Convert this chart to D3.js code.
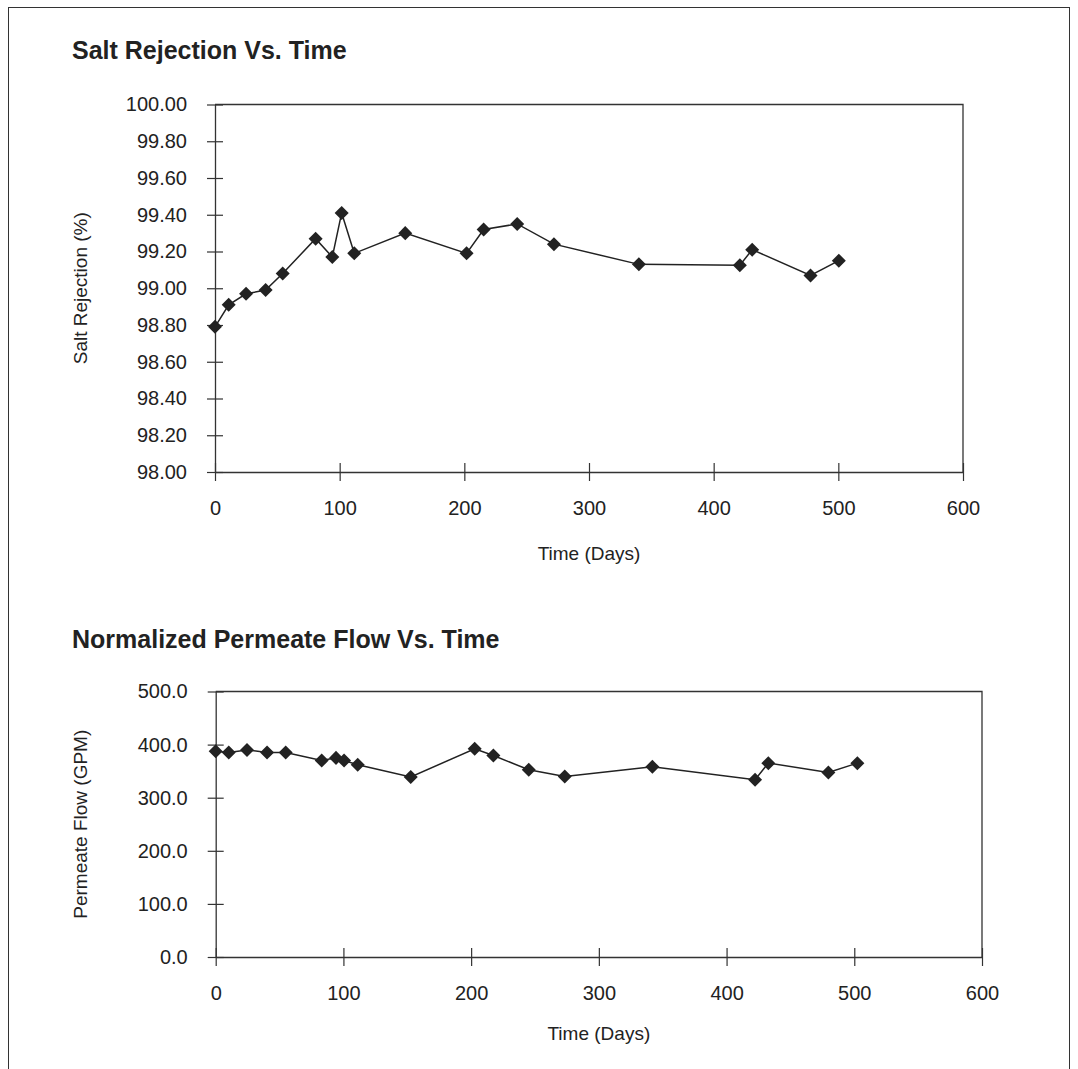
<!DOCTYPE html>
<html>
<head>
<meta charset="utf-8">
<script src="https://cdn.jsdelivr.net/npm/d3@7"></script>
<style>
  html, body { margin: 0; padding: 0; background: #fff; }
  svg { display: block; font-family: "Liberation Sans", Arial, Helvetica, sans-serif; }
</style>
</head>
<body>
<svg id="chart" width="1078" height="1069"></svg>
<script>
// ---- Data ----
const rejectionDays = [0, 11, 24.9, 40.6, 54.3, 80.7, 94.1, 101.6, 111.7, 152.6, 201.8, 215.5, 242.4, 271.9, 340, 421, 430.9, 477.7, 500.4];
const rejectionValues = [98.79, 98.91, 98.97, 98.99, 99.08, 99.27, 99.17, 99.41, 99.19, 99.30, 99.19, 99.32, 99.35, 99.24, 99.13, 99.125, 99.21, 99.07, 99.15];

const flowDays = [0, 10.2, 24.5, 40.2, 54.8, 83, 94.2, 100.5, 111.2, 152.7, 202.8, 217.4, 245.1, 273.3, 341.9, 422.3, 432.7, 479.7, 502.4];
const flowValues = [387.7, 385, 390, 385, 385, 370, 375, 370, 362, 339.2, 392, 379.5, 352.6, 340, 358.2, 333.8, 365.1, 347.4, 365.1];

const xTicks = [0, 100, 200, 300, 400, 500, 600];
const rejectionTicks = [98.0, 98.2, 98.4, 98.6, 98.8, 99.0, 99.2, 99.4, 99.6, 99.8, 100.0];
const flowTicks = [0, 100, 200, 300, 400, 500];

const svg = d3.select("#chart");
const ink = "#222";

// outer frame (bottom edge runs off the page)
svg.append("rect").attr("x", 8.5).attr("y", 7.5).attr("width", 1061).attr("height", 1080)
  .attr("fill", "none").attr("stroke", "#333").attr("stroke-width", 1);

function drawChart(cfg) {
  const x = d3.scaleLinear().domain([0, 600]).range([cfg.left, cfg.right]);
  const y = d3.scaleLinear().domain(cfg.yDomain).range([cfg.bottom, cfg.top]);
  const g = svg.append("g");

  // title
  g.append("text").attr("x", 72).attr("y", cfg.titleY)
    .attr("font-size", 25).attr("font-weight", "bold").attr("fill", ink)
    .text(cfg.title);

  // plot border (top & right)
  g.append("path")
    .attr("d", `M${cfg.left},${y.range()[1]}H${cfg.right}V${cfg.bottom}`)
    .attr("fill", "none").attr("stroke", "#333").attr("stroke-width", 1.3);

  // x axis
  const xa = g.append("g").attr("transform", `translate(0,${cfg.bottom})`)
    .call(d3.axisBottom(x).tickValues(xTicks).tickFormat(d3.format("d")).tickSizeOuter(0))
    .attr("font-family", null);
  xa.select(".domain").attr("stroke", "#333").attr("stroke-width", 1.3);
  xa.selectAll(".tick line").attr("y1", -9).attr("y2", 9).attr("stroke", "#333").attr("stroke-width", 1.2);
  xa.selectAll(".tick text").attr("y", 29).attr("font-size", 20).attr("fill", ink);

  // y axis
  const ya = g.append("g").attr("transform", `translate(${cfg.left},0)`)
    .call(d3.axisLeft(y).tickValues(cfg.yTicks).tickFormat(d3.format(cfg.yFormat)).tickSizeOuter(0))
    .attr("font-family", null);
  ya.select(".domain").attr("stroke", "#333").attr("stroke-width", 1.3);
  ya.selectAll(".tick line").attr("x1", -8).attr("x2", 8).attr("stroke", "#333").attr("stroke-width", 1.2);
  ya.selectAll(".tick text").attr("x", -28).attr("font-size", 20).attr("fill", ink);

  // axis titles
  g.append("text").attr("x", (cfg.left + cfg.right) / 2).attr("y", cfg.xLabelY)
    .attr("text-anchor", "middle").attr("font-size", 19).attr("fill", ink).text("Time (Days)");
  g.append("text")
    .attr("transform", `translate(87,${(cfg.top + cfg.bottom) / 2}) rotate(-90)`)
    .attr("text-anchor", "middle").attr("font-size", 19).attr("fill", ink).text(cfg.yLabel);

  // line
  const pts = cfg.days.map((d, i) => [d, cfg.values[i]]);
  const line = d3.line().x(d => x(d[0])).y(d => y(d[1]));
  g.append("path").datum(pts).attr("d", line)
    .attr("fill", "none").attr("stroke", ink).attr("stroke-width", 1.5);

  // diamond markers
  const diamond = d3.symbol().type(d3.symbolDiamond2).size(125);
  g.selectAll(".pt").data(pts).join("path")
    .attr("transform", d => `translate(${x(d[0])},${y(d[1])})`)
    .attr("d", diamond).attr("fill", ink);
}

drawChart({
  title: "Salt Rejection Vs. Time", titleY: 59,
  left: 215, right: 963, top: 104.5, bottom: 472,
  yDomain: [98, 100], yTicks: rejectionTicks, yFormat: ".2f",
  yLabel: "Salt Rejection (%)", xLabelY: 560,
  days: rejectionDays, values: rejectionValues
});

drawChart({
  title: "Normalized Permeate Flow Vs. Time", titleY: 648,
  left: 215.7, right: 982, top: 691.5, bottom: 957,
  yDomain: [0, 500], yTicks: flowTicks, yFormat: ".1f",
  yLabel: "Permeate Flow (GPM)", xLabelY: 1040,
  days: flowDays, values: flowValues
});
</script>
</body>
</html>
